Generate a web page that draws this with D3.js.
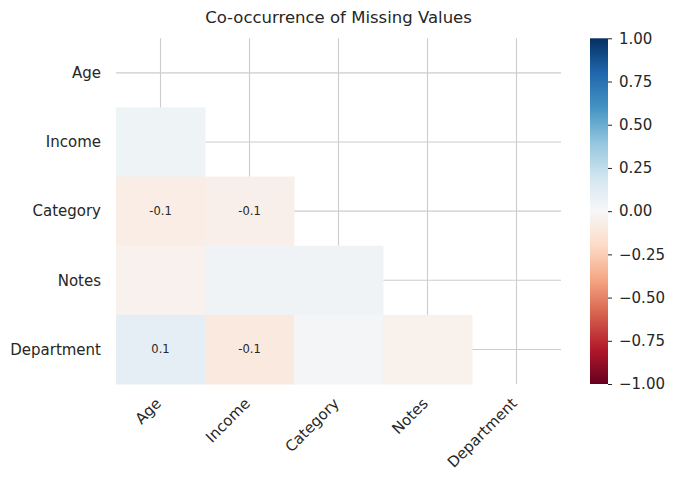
<html>
<head>
    <meta charset="utf-8">
    <script src="https://d3js.org/d3.v7.min.js"></script>
    <style>
        body { margin: 0; background: #fff; }
        text { font-family: "DejaVu Sans", sans-serif; fill: #262626; }
    </style>
</head>
<body>
    <div id="cont"></div>
    <script>
        // columns / rows of the co-occurrence matrix
        var fields = ["Age", "Income", "Category", "Notes", "Department"];
        // lower triangle only, row by row (row i has i values)
        var rowIncome = [0.045];
        var rowCategory = [-0.07, -0.055];
        var rowNotes = [-0.04, 0.04, 0.04];
        var rowDepartment = [0.1, -0.1, 0.02, -0.045];
        var lowerRows = [[], rowIncome, rowCategory, rowNotes, rowDepartment];
        var cbarTicks = [-1, -0.75, -0.5, -0.25, 0, 0.25, 0.5, 0.75, 1];
        // RdBu (11 class) as matplotlib builds it
        var rdbu = ["#67001f", "#b2182b", "#d6604d", "#f4a582", "#fddbc7", "#f7f7f7",
                    "#d1e5f0", "#92c5de", "#4393c3", "#2166ac", "#053061"];

        var width = 677, height = 484;
        // note: "top" is a read-only window property, so use other names
        var mLeft = 116, mRight = 561, mTop = 38.3, mBottom = 384;

        var svg = d3.select("#cont").append("svg")
            .attr("width", width)
            .attr("height", height);

        var x = d3.scaleBand().domain(fields).range([mLeft, mRight]);
        var y = d3.scaleBand().domain(fields).range([mTop, mBottom]);
        var color = d3.scaleLinear()
            .domain(d3.range(rdbu.length).map(function (i) { return -1 + 2 * i / (rdbu.length - 1); }))
            .range(rdbu)
            .interpolate(d3.interpolateRgb);

        var cells = [];
        lowerRows.forEach(function (vals, i) {
            vals.forEach(function (v, j) {
                cells.push({row: fields[i], col: fields[j], value: v});
            });
        });

        // grid lines behind the cells (whitegrid style)
        svg.append("g").selectAll("line")
            .data(fields).enter().append("line")
            .attr("x1", function (d) { return x(d) + x.bandwidth() / 2; })
            .attr("x2", function (d) { return x(d) + x.bandwidth() / 2; })
            .attr("y1", mTop).attr("y2", mBottom)
            .attr("stroke", "#cccccc").attr("stroke-width", 1.1);
        svg.append("g").selectAll("line")
            .data(fields).enter().append("line")
            .attr("y1", function (d) { return y(d) + y.bandwidth() / 2; })
            .attr("y2", function (d) { return y(d) + y.bandwidth() / 2; })
            .attr("x1", mLeft).attr("x2", mRight)
            .attr("stroke", "#cccccc").attr("stroke-width", 1.1);

        svg.append("g").selectAll("rect")
            .data(cells).enter().append("rect")
            .attr("x", function (d) { return x(d.col); })
            .attr("y", function (d) { return y(d.row); })
            .attr("width", x.bandwidth() + 0.5)
            .attr("height", y.bandwidth() + 0.5)
            .attr("fill", function (d) { return color(d.value); });

        svg.append("g").selectAll("text")
            .data(cells.filter(function (d) { return Math.abs(d.value) >= 0.05; }))
            .enter().append("text")
            .attr("x", function (d) { return x(d.col) + x.bandwidth() / 2; })
            .attr("y", function (d) { return y(d.row) + y.bandwidth() / 2; })
            .attr("dy", "0.35em")
            .attr("text-anchor", "middle")
            .style("font-size", "11.5px")
            .text(function (d) { return d3.format(".1f")(d.value).replace("\u2212", "-"); });

        // y tick labels
        svg.append("g").selectAll("text")
            .data(fields).enter().append("text")
            .attr("x", mLeft - 15)
            .attr("y", function (d) { return y(d) + y.bandwidth() / 2; })
            .attr("dy", "0.35em")
            .attr("text-anchor", "end")
            .style("font-size", "15px")
            .text(function (d) { return d; });

        // x tick labels, rotated
        svg.append("g").selectAll("text")
            .data(fields).enter().append("text")
            .attr("transform", function (d) {
                return "translate(" + (x(d) + x.bandwidth() / 2 - 6) + "," + (mBottom + 13) + ") rotate(-45)";
            })
            .attr("dy", "0.7em")
            .attr("text-anchor", "end")
            .style("font-size", "15px")
            .text(function (d) { return d; });

        svg.append("text")
            .attr("x", (mLeft + mRight) / 2)
            .attr("y", 23)
            .attr("text-anchor", "middle")
            .style("font-size", "16.5px")
            .text("Co-occurrence of Missing Values");

        // colorbar
        var cbX = 590, cbW = 18;
        var cy = d3.scaleLinear().domain([-1, 1]).range([mBottom, mTop]);
        var grad = svg.append("defs").append("linearGradient")
            .attr("id", "cbar").attr("x1", 0).attr("y1", 1).attr("x2", 0).attr("y2", 0);
        rdbu.forEach(function (c, i) {
            grad.append("stop").attr("offset", i / (rdbu.length - 1)).attr("stop-color", c);
        });
        svg.append("rect")
            .attr("x", cbX).attr("y", mTop)
            .attr("width", cbW).attr("height", mBottom - mTop)
            .attr("fill", "url(#cbar)");

        var cbAxis = svg.append("g")
            .attr("transform", "translate(" + (cbX + cbW) + ",0)")
            .call(d3.axisRight(cy).tickValues(cbarTicks).tickSize(4).tickPadding(7)
                .tickFormat(d3.format(".2f")));
        cbAxis.select(".domain").remove();
        cbAxis.selectAll("line").attr("stroke", "#262626");
        cbAxis.selectAll("text")
            .style("font-family", "DejaVu Sans, sans-serif")
            .style("font-size", "15px")
            .attr("fill", "#262626");
    </script>
</body>
</html>
